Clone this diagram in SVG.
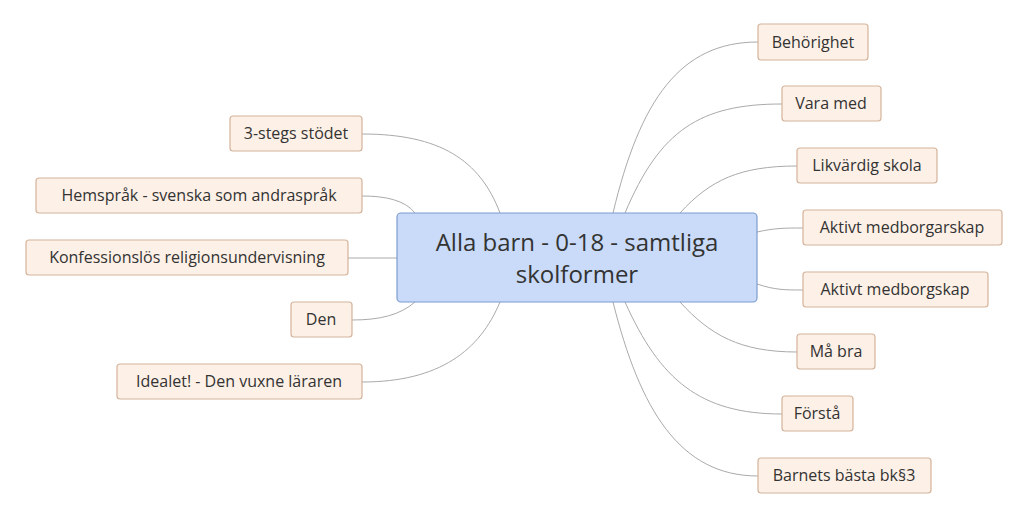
<svg xmlns="http://www.w3.org/2000/svg" width="1023" height="515" viewBox="0 0 1023 515">
<style>
.n{fill:#fdf0e6;stroke:#d4b49c;stroke-width:1.2}
.t{font-family:"Open Sans",sans-serif;font-size:16px;fill:#333;text-anchor:middle}
.c{fill:none;stroke:#aaa;stroke-width:1}
</style>
<rect width="1023" height="515" fill="#fff"/>
<g id="connectors">
<path class="c" d="M613,213 C640,100 680,42 758,42"/>
<path class="c" d="M625,213 C660,130 700,104 782,104"/>
<path class="c" d="M680,213 C710,180 740,166 797,166"/>
<path class="c" d="M757,232 C775,228 785,228 803,228"/>
<path class="c" d="M757,284 C775,290 785,290 803,290"/>
<path class="c" d="M680,302 C710,335 740,352 797,352"/>
<path class="c" d="M625,302 C660,380 700,414 782,414"/>
<path class="c" d="M613,302 C640,410 680,476 758,476"/>
<path class="c" d="M500,213 C480,160 440,134 362,134"/>
<path class="c" d="M415,213 C405,200 385,196 362,196"/>
<path class="c" d="M397,258 L348,258"/>
<path class="c" d="M415,302 C400,315 380,320 352,320"/>
<path class="c" d="M500,302 C480,350 440,382 362,382"/>
</g>
<g id="center"><rect x="397" y="213" width="360" height="89" rx="4" fill="#c9dbf8" stroke="#7d9ccf" stroke-width="1.2"/>
<text x="577" y="251" font-family="Open Sans,sans-serif" font-size="24" fill="#333" text-anchor="middle">Alla barn - 0-18 - samtliga</text>
<text x="577" y="283" font-family="Open Sans,sans-serif" font-size="24" fill="#333" text-anchor="middle">skolformer</text></g>
<g id="n1"><rect class="n" x="758" y="24" width="110" height="36" rx="3"/><text class="t" x="813" y="48">Behörighet</text></g>
<g id="n2"><rect class="n" x="782" y="86" width="99" height="35" rx="3"/><text class="t" x="831" y="109">Vara med</text></g>
<g id="n3"><rect class="n" x="797" y="148" width="140" height="35" rx="3"/><text class="t" x="867" y="171">Likvärdig skola</text></g>
<g id="n4"><rect class="n" x="803" y="210" width="199" height="35" rx="3"/><text class="t" x="902" y="233">Aktivt medborgarskap</text></g>
<g id="n5"><rect class="n" x="803" y="272" width="185" height="35" rx="3"/><text class="t" x="895" y="295">Aktivt medborgskap</text></g>
<g id="n6"><rect class="n" x="797" y="334" width="78" height="35" rx="3"/><text class="t" x="836" y="357">Må bra</text></g>
<g id="n7"><rect class="n" x="782" y="396" width="71" height="35" rx="3"/><text class="t" x="817" y="419">Förstå</text></g>
<g id="n8"><rect class="n" x="758" y="458" width="173" height="35" rx="3"/><text class="t" x="844" y="481">Barnets bästa bk§3</text></g>
<g id="l1"><rect class="n" x="230" y="116" width="132" height="35" rx="3"/><text class="t" x="296" y="139">3-stegs stödet</text></g>
<g id="l2"><rect class="n" x="36" y="178" width="326" height="35" rx="3"/><text class="t" x="199" y="201">Hemspråk - svenska som andraspråk</text></g>
<g id="l3"><rect class="n" x="26" y="240" width="322" height="35" rx="3"/><text class="t" x="187" y="263">Konfessionslös religionsundervisning</text></g>
<g id="l4"><rect class="n" x="291" y="302" width="61" height="35" rx="3"/><text class="t" x="321" y="325">Den</text></g>
<g id="l5"><rect class="n" x="117" y="364" width="245" height="35" rx="3"/><text class="t" x="239" y="387">Idealet! - Den vuxne läraren</text></g>
</svg>
